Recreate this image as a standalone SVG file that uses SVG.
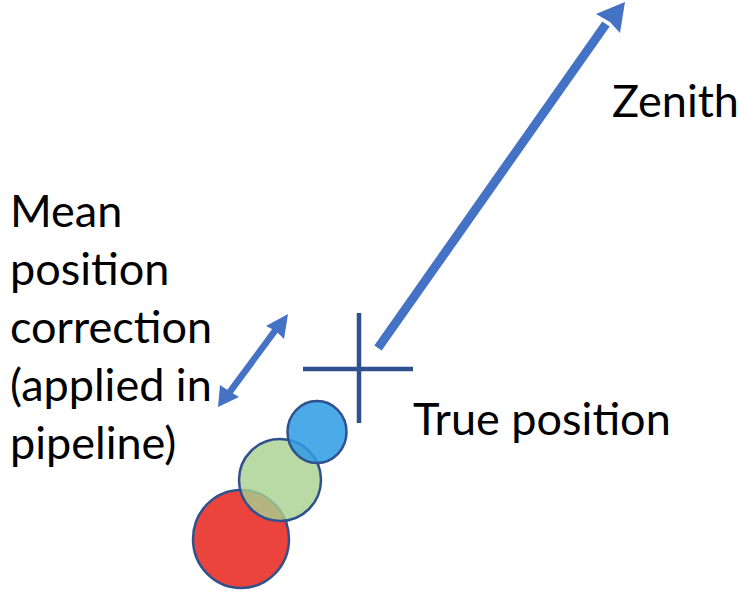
<svg xmlns="http://www.w3.org/2000/svg" width="741" height="598" viewBox="0 0 741 598">
<style>
.t{font-family:Lato,"Open Sans","Liberation Sans",sans-serif;font-size:45px;fill:#000}
.arr{stroke:#4472C4;fill:none}
.cross{stroke:#2F528F;stroke-width:4.5}
.c{stroke:#2F528F;stroke-width:2.5}
</style>
<rect width="741" height="598" fill="#fff"/>
<g id="connectors">
<line class="arr" x1="378" y1="348" x2="606" y2="24" stroke-width="9"/>
<polygon points="625,2 596,14 610,22 620,33" fill="#4472C4"/>
<line class="arr" x1="229" y1="393" x2="277" y2="328" stroke-width="6.5"/>
<polygon points="288,314 266,326 276,331 284,339" fill="#4472C4"/>
<polygon points="218,407 220,385 229,391 239,397" fill="#4472C4"/>
</g>
<g id="red-circle"><ellipse cx="241" cy="539" rx="48" ry="49" fill="#E8231A" fill-opacity="0.85" class="c"/></g>
<g id="green-circle"><circle cx="280" cy="480" r="41" fill="#A9D18E" fill-opacity="0.8" class="c"/></g>
<g id="blue-circle"><ellipse cx="317" cy="432" rx="29.5" ry="31" fill="#2E9BE5" fill-opacity="0.85" class="c"/></g>
<g id="true-position">
<line class="cross" x1="359" y1="313" x2="359" y2="423"/>
<line class="cross" x1="303" y1="369" x2="413" y2="369"/>
<text class="t" x="413" y="435">True position</text>
</g>
<g id="zenith"><text class="t" x="612" y="117">Zenith</text></g>
<g id="mean-correction">
<text class="t" x="10" y="227">Mean</text>
<text class="t" x="10" y="285">position</text>
<text class="t" x="10" y="343">correction</text>
<text class="t" x="10" y="401">(applied in</text>
<text class="t" x="10" y="459">pipeline)</text>
</g>
</svg>
